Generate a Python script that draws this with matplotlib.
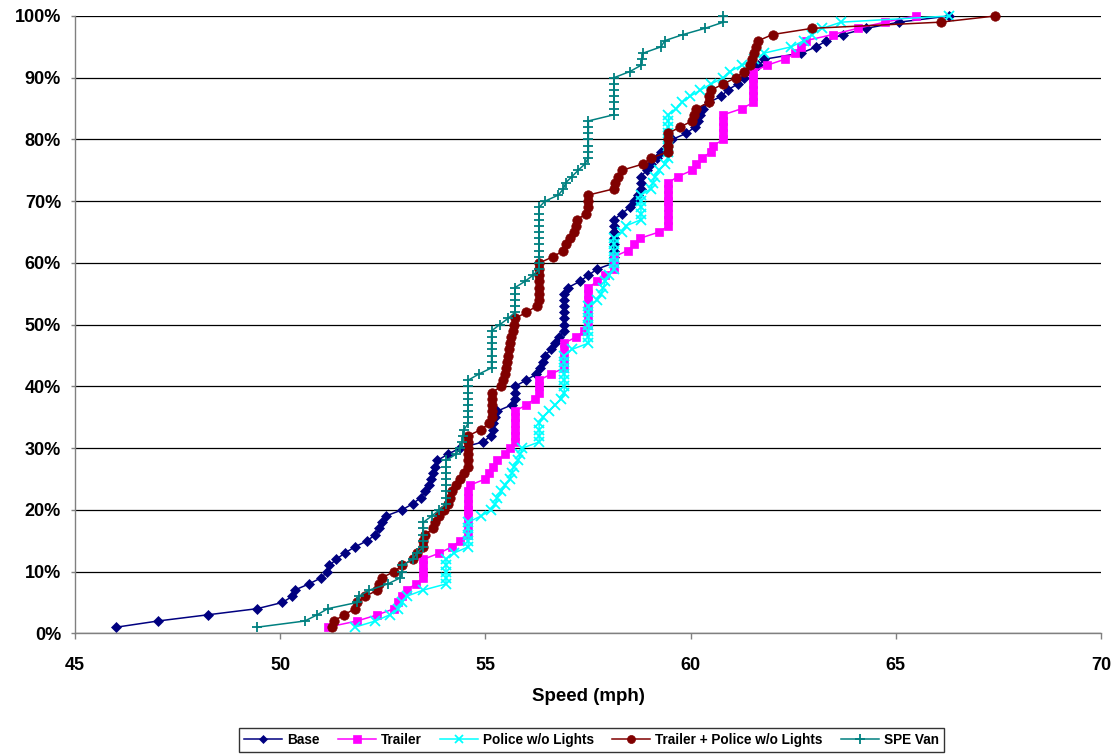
import matplotlib
matplotlib.use("Agg")
import matplotlib.pyplot as plt
from matplotlib.ticker import MultipleLocator, PercentFormatter

plt.rcParams['font.family'] = ['Liberation Sans', 'DejaVu Sans']
plt.rcParams['font.weight'] = 'bold'

# Cumulative percentage of vehicles (y axis)
percent = [
    1, 2, 3, 4, 5, 6, 7, 8, 9, 10, 11, 12, 13, 14, 15, 16, 17, 18, 19, 20,
    21, 22, 23, 24, 25, 26, 27, 28, 29, 30, 31, 32, 33, 34, 35, 36, 37, 38, 39, 40,
    41, 42, 43, 44, 45, 46, 47, 48, 49, 50, 51, 52, 53, 54, 55, 56, 57, 58, 59, 60,
    61, 62, 63, 64, 65, 66, 67, 68, 69, 70, 71, 72, 73, 74, 75, 76, 77, 78, 79, 80,
    81, 82, 83, 84, 85, 86, 87, 88, 89, 90, 91, 92, 93, 94, 95, 96, 97, 98, 99, 100,
]

# Observed speeds (mph), sorted, one per percentile
base = [
    46.01, 47.02, 48.23, 49.44, 50.05, 50.30, 50.35, 50.70, 51.00, 51.15,
    51.20, 51.37, 51.57, 51.82, 52.12, 52.32, 52.42, 52.47, 52.57, 52.97,
    53.23, 53.43, 53.53, 53.63, 53.68, 53.73, 53.78, 53.83, 54.08, 54.38,
    54.94, 55.14, 55.19, 55.19, 55.24, 55.29, 55.64, 55.72, 55.72, 55.72,
    55.99, 56.24, 56.34, 56.40, 56.45, 56.60, 56.70, 56.80, 56.92, 56.92,
    56.92, 56.92, 56.92, 56.92, 56.92, 57.01, 57.30, 57.51, 57.72, 58.13,
    58.13, 58.13, 58.13, 58.13, 58.13, 58.13, 58.13, 58.32, 58.52, 58.62,
    58.72, 58.79, 58.79, 58.79, 58.93, 59.03, 59.18, 59.28, 59.43, 59.55,
    59.90, 60.10, 60.19, 60.24, 60.30, 60.44, 60.75, 60.90, 61.15, 61.30,
    61.45, 61.65, 61.80, 62.70, 63.06, 63.31, 63.72, 64.28, 65.08, 66.30,
]

trailer = [
    51.16, 51.87, 52.37, 52.78, 52.87, 52.97, 53.08, 53.30, 53.49, 53.49,
    53.49, 53.49, 53.88, 54.18, 54.38, 54.58, 54.58, 54.58, 54.58, 54.58,
    54.58, 54.58, 54.58, 54.62, 55.00, 55.09, 55.19, 55.29, 55.49, 55.60,
    55.72, 55.72, 55.72, 55.72, 55.72, 55.72, 56.00, 56.20, 56.31, 56.31,
    56.31, 56.60, 56.92, 56.92, 56.92, 56.92, 56.92, 57.21, 57.41, 57.51,
    57.51, 57.51, 57.51, 57.51, 57.51, 57.51, 57.72, 57.92, 58.13, 58.13,
    58.13, 58.47, 58.62, 58.77, 59.23, 59.46, 59.46, 59.46, 59.46, 59.46,
    59.46, 59.46, 59.46, 59.69, 60.04, 60.14, 60.29, 60.49, 60.55, 60.80,
    60.80, 60.80, 60.80, 60.80, 61.25, 61.53, 61.53, 61.53, 61.53, 61.53,
    61.53, 61.85, 62.30, 62.55, 62.70, 62.80, 63.47, 64.07, 64.73, 65.48,
]

police = [
    51.82, 52.32, 52.67, 52.88, 52.97, 53.08, 53.48, 54.04, 54.04, 54.04,
    54.04, 54.04, 54.23, 54.58, 54.58, 54.58, 54.58, 54.58, 54.89, 55.14,
    55.24, 55.29, 55.39, 55.49, 55.60, 55.64, 55.69, 55.80, 55.85, 55.90,
    56.31, 56.31, 56.31, 56.31, 56.40, 56.55, 56.70, 56.85, 56.92, 56.92,
    56.92, 56.92, 56.92, 56.92, 56.92, 57.11, 57.51, 57.51, 57.51, 57.51,
    57.51, 57.51, 57.51, 57.72, 57.82, 57.87, 57.92, 58.02, 58.13, 58.13,
    58.13, 58.13, 58.13, 58.13, 58.32, 58.42, 58.79, 58.79, 58.79, 58.79,
    58.79, 59.03, 59.08, 59.13, 59.23, 59.38, 59.46, 59.46, 59.46, 59.46,
    59.46, 59.46, 59.46, 59.46, 59.64, 59.79, 59.99, 60.24, 60.50, 60.80,
    60.95, 61.25, 61.55, 61.80, 62.45, 62.76, 62.96, 63.21, 63.67, 66.30,
]

trailer_police = [
    51.26, 51.31, 51.56, 51.82, 51.87, 52.07, 52.37, 52.42, 52.47, 52.78,
    52.97, 53.23, 53.33, 53.49, 53.49, 53.53, 53.73, 53.78, 53.88, 53.98,
    54.08, 54.13, 54.18, 54.28, 54.38, 54.48, 54.58, 54.58, 54.58, 54.58,
    54.58, 54.58, 54.89, 55.09, 55.15, 55.15, 55.15, 55.15, 55.15, 55.39,
    55.44, 55.49, 55.50, 55.52, 55.55, 55.57, 55.60, 55.63, 55.67, 55.70,
    55.72, 56.00, 56.25, 56.31, 56.31, 56.31, 56.31, 56.31, 56.31, 56.31,
    56.65, 56.90, 56.96, 57.06, 57.16, 57.21, 57.23, 57.46, 57.51, 57.51,
    57.51, 58.13, 58.17, 58.22, 58.32, 58.83, 59.04, 59.46, 59.46, 59.46,
    59.46, 59.74, 60.04, 60.09, 60.14, 60.44, 60.44, 60.50, 60.80, 61.10,
    61.30, 61.45, 61.50, 61.55, 61.60, 61.65, 62.00, 62.96, 66.09, 67.42,
]

spe_van = [
    49.44, 50.60, 50.90, 51.16, 51.87, 51.92, 52.17, 52.62, 52.93, 52.97,
    52.97, 53.23, 53.33, 53.49, 53.49, 53.49, 53.49, 53.49, 53.69, 53.88,
    54.04, 54.04, 54.04, 54.04, 54.04, 54.04, 54.04, 54.04, 54.28, 54.38,
    54.43, 54.45, 54.48, 54.58, 54.58, 54.58, 54.58, 54.58, 54.58, 54.58,
    54.58, 54.84, 55.15, 55.15, 55.15, 55.15, 55.15, 55.15, 55.15, 55.35,
    55.55, 55.72, 55.72, 55.72, 55.72, 55.72, 55.96, 56.16, 56.31, 56.31,
    56.31, 56.31, 56.31, 56.31, 56.31, 56.31, 56.31, 56.31, 56.31, 56.45,
    56.78, 56.90, 56.96, 57.11, 57.26, 57.42, 57.51, 57.51, 57.51, 57.51,
    57.51, 57.51, 57.51, 58.13, 58.13, 58.13, 58.13, 58.13, 58.13, 58.13,
    58.52, 58.79, 58.81, 58.85, 59.28, 59.37, 59.82, 60.35, 60.80, 60.80,
]

series_labels = ["Base", "Trailer", "Police w/o Lights",
                 "Trailer + Police w/o Lights", "SPE Van"]
x_ticks = [45, 50, 55, 60, 65, 70]

styles = [
    dict(color="#000080", marker="D", ms=5.3, mew=0.5),
    dict(color="#FF00FF", marker="s", ms=6.2, mew=0.5),
    dict(color="#00FFFF", marker="x", ms=6.8, mew=1.3),
    dict(color="#800000", marker="o", ms=6.8, mew=0.5),
    dict(color="#008080", marker="+", ms=7.8, mew=1.3),
]

fig = plt.figure(figsize=(11.17, 7.54), dpi=100)
ax = fig.add_axes([0.0671, 0.160, 0.9186, 0.8188])

for speeds, label, st in zip([base, trailer, police, trailer_police, spe_van],
                             series_labels, styles):
    ax.plot(speeds, percent, label=label, lw=1.1, color=st["color"],
            marker=st["marker"], ms=st["ms"], mew=st["mew"],
            mec=st["color"], mfc=st["color"], clip_on=False)

ax.set_xlim(45, 70)
ax.set_ylim(0, 100)
ax.set_xticks(x_ticks)
ax.yaxis.set_major_locator(MultipleLocator(10))
ax.yaxis.set_major_formatter(PercentFormatter(100, decimals=0))

ax.grid(axis="y", color="black", lw=0.9)
ax.set_axisbelow(True)
for side in ("top", "right"):
    ax.spines[side].set_visible(False)
for side in ("left", "bottom"):
    ax.spines[side].set_color("#808080")
    ax.spines[side].set_linewidth(1.0)

ax.tick_params(axis="y", direction="out", length=3, width=1, color="#808080",
               labelsize=13, pad=7)
ax.tick_params(axis="x", direction="out", length=4, width=1, color="#808080",
               labelsize=13, pad=13)
for lbl in ax.get_xticklabels() + ax.get_yticklabels():
    lbl.set_fontweight("bold")

ax.set_xlabel("Speed (mph)", fontsize=13.5, fontweight="bold", labelpad=10)

leg = fig.legend(loc="center", bbox_to_anchor=(0.5295, 0.0186), ncol=5,
                 prop={"size": 9.8, "weight": "bold"}, frameon=True,
                 fancybox=False, edgecolor="black", handlelength=2.8,
                 handletextpad=0.35, columnspacing=1.35, borderpad=0.35,
                 markerscale=0.85)
leg.get_frame().set_linewidth(1.0)

fig.savefig("out.png", dpi=100)
